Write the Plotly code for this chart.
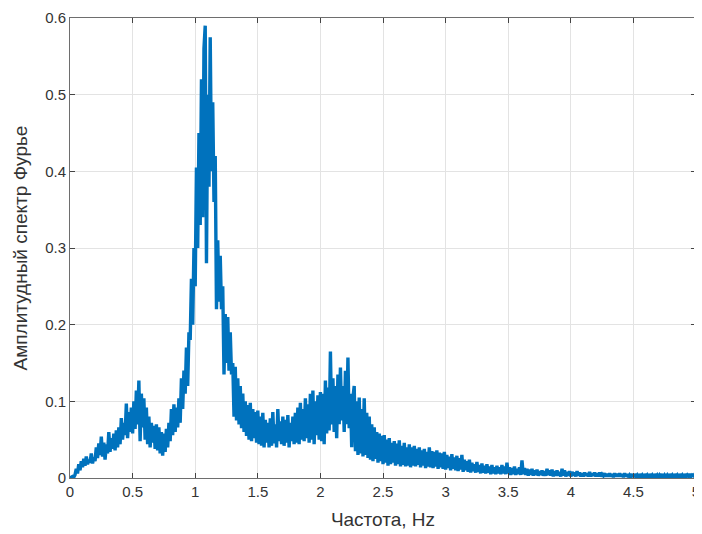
import plotly.graph_objects as go

# Amplitude values every 0.01 Hz, one row per 0.1 Hz
amp_rows = [
    [0.000,0.001,0.002,0.001,0.004,0.012,0.006,0.018,0.010,0.022],  # 0.0
    [0.014,0.025,0.016,0.028,0.018,0.024,0.020,0.032,0.019,0.027],  # 0.1
    [0.022,0.040,0.026,0.045,0.030,0.054,0.028,0.046,0.024,0.044],  # 0.2
    [0.032,0.060,0.034,0.052,0.038,0.058,0.036,0.062,0.040,0.066],  # 0.3
    [0.044,0.078,0.050,0.072,0.056,0.097,0.052,0.086,0.060,0.092],  # 0.4
    [0.058,0.100,0.064,0.114,0.070,0.127,0.048,0.110,0.066,0.104],  # 0.5
    [0.050,0.092,0.044,0.080,0.040,0.072,0.046,0.068,0.038,0.070],  # 0.6
    [0.036,0.066,0.032,0.060,0.029,0.058,0.034,0.064,0.040,0.072],  # 0.7
    [0.048,0.090,0.056,0.096,0.060,0.092,0.066,0.104,0.072,0.130],  # 0.8
    [0.090,0.140,0.110,0.170,0.120,0.190,0.180,0.260,0.200,0.300],  # 0.9
    [0.250,0.405,0.300,0.450,0.330,0.520,0.340,0.560,0.590,0.280],  # 1.0
    [0.500,0.380,0.575,0.400,0.490,0.360,0.420,0.220,0.310,0.230],  # 1.1
    [0.290,0.220,0.250,0.135,0.214,0.150,0.210,0.140,0.190,0.135],  # 1.2
    [0.150,0.080,0.145,0.075,0.130,0.070,0.120,0.065,0.110,0.060],  # 1.3
    [0.100,0.055,0.095,0.050,0.098,0.048,0.090,0.052,0.086,0.046],  # 1.4
    [0.088,0.044,0.080,0.042,0.085,0.040,0.076,0.046,0.072,0.040],  # 1.5
    [0.078,0.042,0.086,0.045,0.070,0.040,0.090,0.048,0.074,0.044],  # 1.6
    [0.080,0.042,0.076,0.046,0.082,0.040,0.072,0.048,0.080,0.044],  # 1.7
    [0.085,0.046,0.092,0.044,0.098,0.050,0.090,0.048,0.104,0.052],  # 1.8
    [0.096,0.046,0.110,0.050,0.114,0.044,0.100,0.056,0.108,0.050],  # 1.9
    [0.112,0.048,0.110,0.044,0.127,0.058,0.118,0.062,0.165,0.070],  # 2.0
    [0.130,0.060,0.120,0.052,0.135,0.070,0.144,0.075,0.120,0.060],  # 2.1
    [0.140,0.070,0.157,0.065,0.110,0.040,0.105,0.120,0.035,0.100],  # 2.2
    [0.030,0.105,0.032,0.090,0.028,0.104,0.030,0.085,0.026,0.080],  # 2.3
    [0.024,0.070,0.022,0.066,0.025,0.060,0.020,0.058,0.022,0.055],  # 2.4
    [0.018,0.056,0.020,0.050,0.016,0.052,0.018,0.046,0.020,0.048],  # 2.5
    [0.016,0.045,0.018,0.049,0.015,0.042,0.017,0.046,0.015,0.040],  # 2.6
    [0.016,0.044,0.014,0.040,0.016,0.042,0.015,0.038,0.017,0.040],  # 2.7
    [0.014,0.036,0.016,0.038,0.013,0.034,0.015,0.040,0.014,0.035],  # 2.8
    [0.013,0.034,0.015,0.036,0.012,0.033,0.014,0.032,0.012,0.034],  # 2.9
    [0.011,0.030,0.013,0.028,0.010,0.031,0.012,0.027,0.010,0.029],  # 3.0
    [0.009,0.026,0.011,0.030,0.008,0.024,0.010,0.022,0.008,0.024],  # 3.1
    [0.007,0.020,0.009,0.018,0.007,0.021,0.008,0.017,0.006,0.019],  # 3.2
    [0.007,0.016,0.006,0.018,0.007,0.015,0.005,0.017,0.006,0.014],  # 3.3
    [0.005,0.016,0.006,0.014,0.005,0.017,0.006,0.015,0.005,0.020],  # 3.4
    [0.006,0.014,0.004,0.013,0.005,0.015,0.004,0.012,0.005,0.014],  # 3.5
    [0.004,0.023,0.005,0.013,0.004,0.012,0.003,0.011,0.004,0.012],  # 3.6
    [0.003,0.010,0.004,0.011,0.003,0.009,0.004,0.010,0.003,0.009],  # 3.7
    [0.003,0.012,0.004,0.010,0.003,0.011,0.002,0.009,0.003,0.010],  # 3.8
    [0.003,0.008,0.002,0.012,0.003,0.010,0.002,0.008,0.003,0.009],  # 3.9
    [0.002,0.008,0.003,0.007,0.002,0.009,0.003,0.007,0.002,0.006],  # 4.0
    [0.002,0.007,0.003,0.006,0.002,0.008,0.002,0.006,0.003,0.007],  # 4.1
    [0.002,0.006,0.002,0.007,0.002,0.005,0.003,0.006,0.002,0.005],  # 4.2
    [0.002,0.006,0.002,0.005,0.001,0.006,0.002,0.005,0.002,0.006],  # 4.3
    [0.002,0.005,0.001,0.006,0.002,0.005,0.001,0.004,0.002,0.005],  # 4.4
    [0.001,0.005,0.002,0.004,0.001,0.005,0.002,0.004,0.001,0.005],  # 4.5
    [0.002,0.004,0.001,0.005,0.002,0.004,0.001,0.005,0.002,0.004],  # 4.6
    [0.001,0.004,0.002,0.005,0.001,0.004,0.002,0.004,0.001,0.005],  # 4.7
    [0.002,0.004,0.001,0.005,0.002,0.004,0.001,0.005,0.002,0.004],  # 4.8
    [0.001,0.005,0.002,0.004,0.002,0.005,0.002,0.004,0.003,0.005,0.004],  # 4.9-5.0
]
amplitude = [v for row in amp_rows for v in row]
freq_step = 0.01
frequency = [round(i * freq_step, 2) for i in range(len(amplitude))]

x_ticks = [0, 0.5, 1, 1.5, 2, 2.5, 3, 3.5, 4, 4.5, 5]
x_tick_labels = ["0", "0.5", "1", "1.5", "2", "2.5", "3", "3.5", "4", "4.5", "5"]
y_ticks = [0, 0.1, 0.2, 0.3, 0.4, 0.5, 0.6]
y_tick_labels = ["0", "0.1", "0.2", "0.3", "0.4", "0.5", "0.6"]

x_title = "Частота, Hz"
y_title = "Амплитудный спектр Фурье"

fig = go.Figure()
fig.add_trace(go.Scatter(
    x=frequency, y=amplitude, mode="lines",
    line=dict(color="#0072BD", width=3.4),
    showlegend=False,
))

font_family = "Liberation Sans, Arial, sans-serif"
axis_common = dict(
    showline=True, linecolor="#6e6e6e", linewidth=1, mirror="ticks",
    showgrid=True, gridcolor="#e3e3e3", gridwidth=1,
    ticks="inside", ticklen=5, tickcolor="#444444",
    zeroline=False, automargin=False, ticklabeloverflow="allow",
    tickfont=dict(family=font_family, size=15, color="#333333"),
)

# page body adds an 8px offset, so the figure is sized to fit inside the window
fig.update_layout(
    width=694, height=526,
    margin=dict(l=62, r=6, t=10, b=56),
    paper_bgcolor="white", plot_bgcolor="white",
    xaxis=dict(range=[0, 5], tickvals=x_ticks, ticktext=x_tick_labels,
               title=dict(text=x_title, font=dict(family=font_family, size=19, color="#333333"), standoff=13),
               **axis_common),
    yaxis=dict(range=[0, 0.6], tickvals=y_ticks, ticktext=y_tick_labels,
               title=dict(text=y_title, font=dict(family=font_family, size=19, color="#333333"), standoff=12),
               **axis_common),
)

fig.write_html("out.html")
